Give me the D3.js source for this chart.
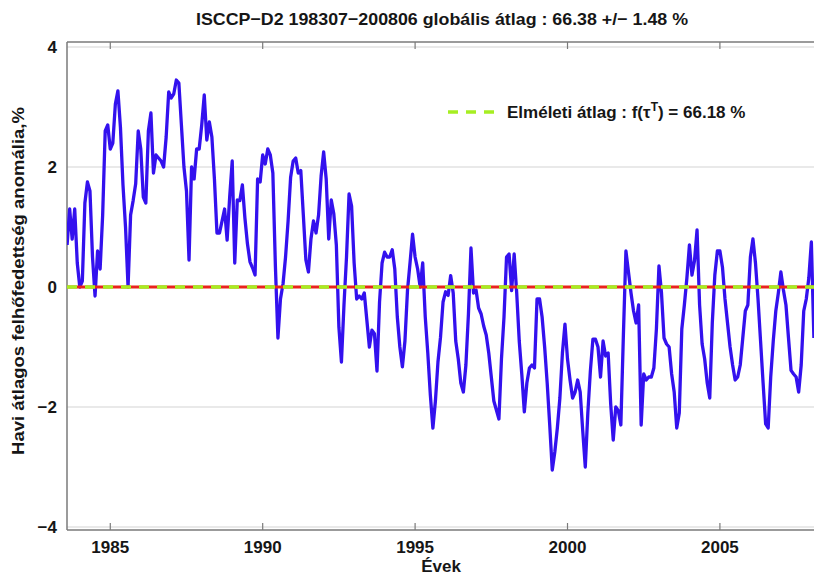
<!DOCTYPE html>
<html><head><meta charset="utf-8">
<script src="https://cdn.jsdelivr.net/npm/d3@7"></script>
<style>
body{margin:0;background:#fff}
svg{display:block}
text{font-family:"Liberation Sans",Arial,Helvetica,sans-serif;font-weight:bold;fill:#161616}
</style>
</head><body>
<svg id="c" width="814" height="577"></svg>
<script>
// ---- data ----
const startYear = 1983, startMonth = 7;   // first month: 1983 July
const anomaly = [
 0.7,1.3,0.8,1.3,0.4,0.0,0.1,1.4,1.75,1.6,0.5,-0.15,
 0.6,0.3,1.2,2.6,2.7,2.3,2.4,3.05,3.27,2.66,1.7,1.0,
 0.0,1.2,1.44,1.72,2.6,2.3,1.5,1.4,2.6,2.9,1.9,2.2,
 2.15,2.1,2.0,2.5,3.25,3.15,3.22,3.45,3.4,2.7,2.0,1.6,
 0.45,2.0,1.8,2.3,2.3,2.7,3.2,2.45,2.75,2.5,1.8,0.9,
 0.9,1.1,1.3,0.78,1.5,2.1,0.4,1.45,1.44,1.7,1.15,0.72,
 0.42,0.32,0.2,1.8,1.75,2.2,2.05,2.3,2.2,1.9,0.35,-0.85,
 -0.2,0.05,0.5,1.1,1.83,2.1,2.15,1.9,1.94,1.2,0.45,0.25,
 0.8,1.1,0.9,1.2,1.85,2.25,1.8,0.8,1.45,1.22,0.7,-0.67,
 -1.25,-0.3,0.5,1.55,1.35,0.4,-0.2,-0.15,-0.2,-0.1,-0.55,-1.0,
 -0.72,-0.78,-1.4,-0.25,0.4,0.58,0.5,0.5,0.62,0.3,-0.5,-1.0,
 -1.33,-0.9,-0.06,0.4,0.88,0.5,0.3,0.0,0.4,-0.5,-1.1,-1.8,
 -2.35,-1.9,-1.25,-0.84,-0.25,-0.08,-0.14,0.19,-0.1,-0.9,-1.2,-1.6,
 -1.75,-1.3,-0.45,0.65,-0.1,-0.05,-0.35,-0.45,-0.65,-0.8,-1.1,-1.5,
 -1.9,-2.05,-2.2,-1.2,-0.5,0.5,0.55,-0.06,0.55,-0.1,-0.9,-1.45,
 -2.08,-1.6,-1.35,-1.3,-1.35,-0.2,-0.2,-0.5,-1.0,-1.6,-2.3,-3.05,
 -2.75,-2.35,-1.85,-1.1,-0.62,-1.2,-1.55,-1.85,-1.75,-1.55,-1.75,-2.4,
 -3.0,-2.1,-1.4,-0.87,-0.87,-1.0,-1.5,-0.9,-1.15,-1.1,-1.95,-2.55,
 -2.0,-2.06,-2.3,-0.8,0.6,0.25,-0.1,-0.4,-0.6,-0.3,-2.3,-1.45,
 -1.55,-1.5,-1.5,-1.35,-0.7,0.35,-0.1,-0.85,-0.95,-1.0,-1.45,-1.75,
 -2.35,-2.1,-0.7,-0.3,0.15,0.7,0.2,0.44,0.95,-0.3,-0.95,-1.2,
 -1.6,-1.85,-0.6,0.2,0.6,0.6,0.33,-0.2,-0.6,-1.0,-1.3,-1.55,
 -1.5,-1.3,-0.85,-0.4,-0.3,0.5,0.8,0.4,-0.2,-0.9,-1.6,-2.28,
 -2.35,-1.5,-0.9,-0.4,-0.1,0.25,-0.05,-0.3,-0.85,-1.39,-1.45,-1.5,
 -1.75,-1.3,-0.4,-0.2,0.15,0.75,-0.85
];
const xTicks = [1985, 1990, 1995, 2000, 2005];
const yTicks = [-4, -2, 0, 2, 4];
const meanLine = [0];             // global mean (red) and theoretical mean (green dashed) on the anomaly scale
const titleText = "ISCCP\u2212D2 198307\u2212200806 globális átlag :  66.38 +/\u2212 1.48 %";
const yLabelText = "Havi átlagos felhőfedettség anomália,%";
const xLabelText = "Évek";
const legendPre = "Elméleti átlag : f(τ", legendSup = "T", legendPost = ") = 66.18 %";

// ---- layout ----
const svg = d3.select("#c");
const L = 67, T = 42, B = 530, R = 814;
const FS = 17;
const x = d3.scaleLinear().domain([startYear + startMonth/12, 2008.5]).range([67.1, 826.6]);
const y = d3.scaleLinear().domain([-4, 4]).range([527, 47]);
const pts = anomaly.map((v,i) => [startYear + (startMonth + i)/12, v]);

svg.append("defs").append("clipPath").attr("id","clip")
  .append("rect").attr("x",L).attr("y",T).attr("width",R-L+20).attr("height",B-T);

// gridlines
svg.append("g").selectAll("line").data(yTicks).join("line")
  .attr("x1",L).attr("x2",R).attr("y1",d=>y(d)).attr("y2",d=>y(d))
  .attr("stroke","#d4d4d4").attr("stroke-width",1.2);

// box
const box = svg.append("g").attr("stroke","#7a7a7a").attr("stroke-width",1.5).attr("fill","none");
box.append("line").attr("x1",L).attr("x2",L).attr("y1",T).attr("y2",B);
box.append("line").attr("x1",L).attr("x2",R).attr("y1",T).attr("y2",T);
box.append("line").attr("x1",L).attr("x2",R).attr("y1",B).attr("y2",B);

// x ticks top & bottom
const tk = svg.append("g").attr("stroke","#7a7a7a").attr("stroke-width",1.2);
tk.selectAll(".tb").data(xTicks).join("line").attr("x1",d=>x(d)).attr("x2",d=>x(d)).attr("y1",B).attr("y2",B-7);
tk.selectAll(".tt").data(xTicks).join("line").attr("x1",d=>x(d)).attr("x2",d=>x(d)).attr("y1",T).attr("y2",T+7);

// data line
const g = svg.append("g").attr("clip-path","url(#clip)");
g.append("path").datum(pts)
  .attr("d", d3.line().x(d=>x(d[0])).y(d=>y(d[1])))
  .attr("fill","none").attr("stroke","#3311ee").attr("stroke-width",3.3).attr("stroke-linejoin","round");

// mean lines
g.selectAll(".red").data(meanLine).join("line")
  .attr("x1",L).attr("x2",R).attr("y1",d=>y(d)).attr("y2",d=>y(d))
  .attr("stroke","#e8231c").attr("stroke-width",3);
g.selectAll(".grn").data(meanLine).join("line")
  .attr("x1",L).attr("x2",R).attr("y1",d=>y(d)).attr("y2",d=>y(d))
  .attr("stroke","#a6ee22").attr("stroke-width",3.4).attr("stroke-dasharray","10,8");

// y tick labels
svg.append("g").selectAll("text").data(yTicks).join("text")
  .attr("x",57).attr("y",d=>y(d)+6).attr("text-anchor","end").attr("font-size",FS)
  .text(d => d < 0 ? "\u2212" + Math.abs(d) : d);

// x tick labels
svg.append("g").selectAll("text").data(xTicks).join("text")
  .attr("x",d=>x(d)).attr("y",552.5).attr("text-anchor","middle").attr("font-size",FS)
  .text(d=>d);

// title & axis labels
svg.append("text").attr("x",442).attr("y",25).attr("text-anchor","middle").attr("font-size",FS)
  .attr("textLength",492).attr("lengthAdjust","spacingAndGlyphs").text(titleText);
svg.append("text").attr("x",441).attr("y",572).attr("text-anchor","middle").attr("font-size",FS).text(xLabelText);
svg.append("text").attr("transform","translate(24,281) rotate(-90)").attr("text-anchor","middle").attr("font-size",FS)
  .attr("textLength",348).attr("lengthAdjust","spacingAndGlyphs").text(yLabelText);

// legend
svg.append("line").attr("x1",448).attr("x2",496).attr("y1",112).attr("y2",112)
  .attr("stroke","#a6ee22").attr("stroke-width",3.4).attr("stroke-dasharray","10,8");
const lt = svg.append("text").attr("x",507).attr("y",118).attr("font-size",FS);
lt.append("tspan").text(legendPre);
lt.append("tspan").attr("dy",-7).attr("font-size",12).text(legendSup);
lt.append("tspan").attr("dy",7).text(legendPost);
</script>
</body></html>
